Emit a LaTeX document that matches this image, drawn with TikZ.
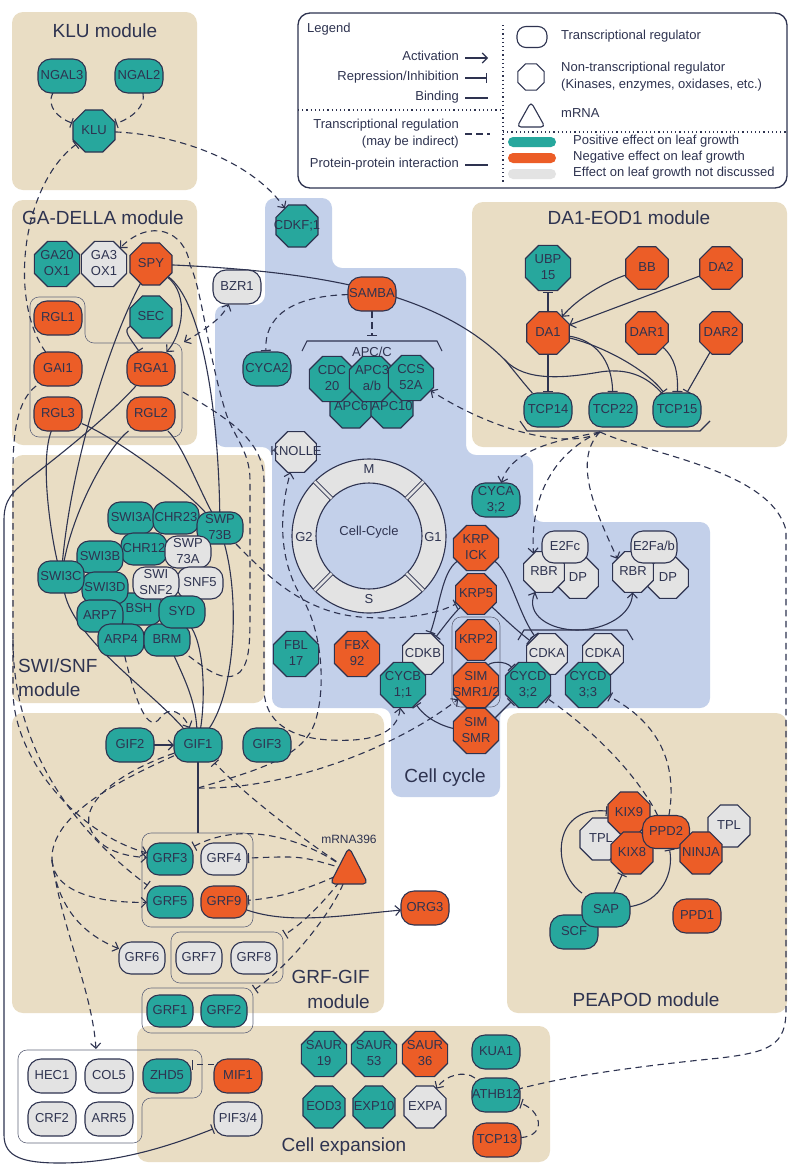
\documentclass[tikz,border=0pt]{standalone}
\usepackage{fontspec}
\setmainfont{Liberation Sans}
\usetikzlibrary{shapes.geometric,arrows.meta}
\definecolor{ink}{HTML}{2E3350}
\definecolor{tealc}{HTML}{27A79D}
\definecolor{orngc}{HTML}{EC5D27}
\definecolor{greyc}{HTML}{E3E3E3}
\definecolor{tanc}{HTML}{E9DDC4}
\definecolor{bluec}{HTML}{C3D0EA}
\newcommand{\myN}{\fontsize{13}{16}\selectfont}
\newcommand{\myT}{\fontsize{19}{23}\selectfont}
\newcommand{\myL}{\fontsize{13}{16}\selectfont}
\newcommand{\ctext}[1]{\makebox[0pt]{\begin{tabular}{@{}c@{}}#1\end{tabular}}}
\pgfdeclarelayer{bgl}
\pgfdeclarelayer{edg}
\pgfsetlayers{bgl,edg,main}
\begin{document}
\begin{tikzpicture}[x=1pt,y=-1pt,
  nb/.style={draw=ink, line width=1.1pt, text=ink, font=\myN, inner sep=0pt, outer sep=0pt},
  tr/.style={nb, rectangle, rounded corners=13pt, minimum width=48pt, minimum height=34pt},
  sw/.style={nb, rectangle, rounded corners=12pt, minimum width=46pt, minimum height=32pt},
  oct/.style={nb, regular polygon, regular polygon sides=8, minimum size=45.5pt},
  cc/.style={oct, minimum size=44pt},
  da/.style={oct, minimum size=46pt},
  cpos/.style={fill=tealc}, cneg/.style={fill=orngc}, cneu/.style={fill=greyc},
  ln/.style={draw=ink, line width=1.1pt},
  td/.style={ln, dash pattern=on 6.5pt off 4.5pt},
  act/.style={-{Straight Barb[length=5pt,width=10pt]}},
  bact/.style={{Straight Barb[length=5pt,width=10pt]}-{Straight Barb[length=5pt,width=10pt]}},
  rep/.style={-{Bar[width=10pt]}, shorten >=1pt},
  grp/.style={draw=ink!75, line width=0.6pt, rounded corners=9pt},
  dotl/.style={draw=ink, line width=1.2pt, dash pattern=on 1.2pt off 3pt},
  ttl/.style={text=ink, font=\myT, inner sep=0pt},
  lgt/.style={text=ink, font=\myL, inner sep=0pt}]
\useasboundingbox (0,0) rectangle (798,1170);

% ---------------- backgrounds ----------------
\begin{pgfonlayer}{bgl}
\fill[white] (0,0) rectangle (798,1170);
\fill[tanc, rounded corners=11pt] (12,12) rectangle (197,190);
\fill[tanc, rounded corners=11pt] (12,200) rectangle (197,445);
\fill[tanc, rounded corners=11pt] (12,455) rectangle (265,703);
\fill[tanc, rounded corners=11pt] (12,713) rectangle (384,1013);
\fill[tanc, rounded corners=11pt] (137,1026) rectangle (550,1162);
\fill[tanc, rounded corners=11pt] (472,202) rectangle (787,447);
\fill[tanc, rounded corners=11pt] (507,713) rectangle (787,1013);
\fill[bluec, rounded corners=10pt] (265,198) -- (332,198) -- (332,268) -- (466,268) -- (466,455)
  -- (533,455) -- (533,522) -- (710,522) -- (710,708) -- (500,708) -- (500,797) -- (391,797)
  -- (391,708) -- (272,708) -- (272,447) -- (215,447) -- (215,305) -- (265,305) -- cycle;
\draw[ink, line width=1.3pt, rounded corners=12pt, fill=white] (298,13) rectangle (787,188);
% cell-cycle ring
\filldraw[fill=greyc, draw=ink, line width=1.1pt] (369,536) circle[radius=77pt];
\filldraw[fill=bluec, draw=ink, line width=1.1pt] (369,536) circle[radius=53pt];
\foreach \a in {45,135,225,315}
  \draw[ink, line width=0.9pt, double=greyc, double distance=2.6pt, shift={(369,536)}] (\a:53pt) -- (\a:77pt);
% group boxes
\draw[grp] (30,297) -- (85,297) -- (85,343) -- (182,343) -- (182,437) -- (30,437) -- cycle;
\draw[grp] (142,833) rectangle (253,927);
\draw[grp] (171,932) rectangle (283,983);
\draw[grp] (142,988) rectangle (253,1033);
\draw[grp] (18,1050) -- (202,1050) -- (202,1098) -- (142,1098) -- (142,1143) -- (18,1143) -- cycle;
\draw[grp] (452,617) rectangle (500,707);
\end{pgfonlayer}

% ---------------- titles ----------------
\node[ttl] (t1) at (105,31) {KLU module};
\node[ttl,anchor=west] (t2) at (22,218) {GA-DELLA module};
\node[ttl,anchor=west] (t3) at (18,666) {SWI/SNF};
\node[ttl,anchor=west] (t4) at (18,690) {module};
\node[ttl,anchor=east] (t5) at (370,977) {GRF-GIF};
\node[ttl,anchor=east] (t6) at (370,1002) {module};
\node[ttl] (t7) at (629,218) {DA1-EOD1 module};
\node[ttl] (t8) at (646,1000) {PEAPOD module};
\node[ttl,anchor=mid] (t9) at (445,780) {Cell cycle};
\node[ttl,anchor=mid] (t10) at (344,1149) {Cell expansion};

% ---------------- legend ----------------
\node[lgt,anchor=mid west] (lg0) at (307,30) {Legend};
\node[lgt,anchor=mid east] (lg1) at (459,58) {Activation};
\node[lgt,anchor=mid east] (lg2) at (459,78) {Repression/Inhibition};
\node[lgt,anchor=mid east] (lg3) at (459,98) {Binding};
\node[lgt,anchor=mid east] (lg4) at (459,126) {Transcriptional regulation};
\node[lgt,anchor=mid east] (lg5) at (459,143) {(may be indirect)};
\node[lgt,anchor=mid east] (lg6) at (459,165) {Protein-protein interaction};
\draw[ln,act] (465,58) -- (488,58);
\draw[ln,rep] (465,78) -- (488,78);
\draw[ln] (465,98) -- (488,98);
\draw[td] (465,134) -- (490,134);
\draw[ln] (465,165) -- (488,165);
\draw[dotl] (298,110) -- (503,110);
\draw[dotl] (503,25) -- (503,184);
\draw[dotl] (503,132) -- (787,132);
\node[nb, fill=white, rectangle, rounded corners=9pt, minimum width=30pt, minimum height=21pt] (ls1) at (532,37) {};
\node[nb, fill=white, regular polygon, regular polygon sides=8, minimum size=28.5pt] (ls2) at (531,77) {};
\filldraw[fill=white, draw=ink, line width=1.1pt, rounded corners=4pt] (531,102) -- (545,127) -- (517,127) -- cycle;
\fill[tealc, rounded corners=5pt] (508,137) rectangle (556,147);
\fill[orngc, rounded corners=5pt] (508,153) rectangle (556,163);
\fill[greyc, rounded corners=5pt] (508,169) rectangle (556,179);
\node[lgt,anchor=mid west] (lr1) at (561,37) {Transcriptional regulator};
\node[lgt,anchor=mid west] (lr2) at (561,69) {Non-transcriptional regulator};
\node[lgt,anchor=mid west] (lr3) at (561,86) {(Kinases, enzymes, oxidases, etc.)};
\node[lgt,anchor=mid west] (lr4) at (561,115) {mRNA};
\node[lgt,anchor=mid west] (lr5) at (573,142) {Positive effect on leaf growth};
\node[lgt,anchor=mid west] (lr6) at (573,158) {Negative effect on leaf growth};
\node[lgt,anchor=mid west] (lr7) at (573,174) {Effect on leaf growth not discussed};

% ---------------- KLU ----------------
\node[tr,cpos] (NGAL3) at (62,76) {\ctext{NGAL3}};
\node[tr,cpos] (NGAL2) at (139,76) {\ctext{NGAL2}};
\node[oct,cpos] (KLU) at (94,131) {\ctext{KLU}};

% ---------------- GA-DELLA ----------------
\node[oct,cpos] (GA20) at (57,264) {\ctext{GA20\\OX1}};
\node[oct,cneu] (GA3) at (104,264) {\ctext{GA3\\OX1}};
\node[oct,cneg] (SPY) at (151,264) {\ctext{SPY}};
\node[tr,cneg] (RGL1) at (58,318) {\ctext{RGL1}};
\node[oct,cpos] (SEC) at (151,317) {\ctext{SEC}};
\node[tr,cneg] (GAI1) at (58,369) {\ctext{GAI1}};
\node[tr,cneg] (RGA1) at (151,369) {\ctext{RGA1}};
\node[tr,cneg] (RGL3) at (58,414) {\ctext{RGL3}};
\node[tr,cneg] (RGL2) at (151,414) {\ctext{RGL2}};
\node[tr,cneu] (BZR1) at (237,287) {\ctext{BZR1}};
\coordinate (Dbox) at (184,342);
\coordinate (Dline) at (183,392);

% ---------------- SWI/SNF ----------------
\node[sw,cpos] (SWI3A) at (131,518) {\ctext{SWI3A}};
\node[sw,cpos] (CHR23) at (176,518) {\ctext{CHR23}};
\node[sw,cpos] (SWP73B) at (220,528) {\ctext{SWP\\73B}};
\node[sw,cpos] (CHR12) at (144,549) {\ctext{CHR12}};
\node[sw,cneu] (SWP73A) at (188,552) {\ctext{SWP\\73A}};
\node[sw,cpos] (SWI3B) at (100,557) {\ctext{SWI3B}};
\node[sw,cpos] (BSH) at (139,609) {\ctext{BSH}};
\node[sw,cneu] (SNF5) at (200,583) {\ctext{SNF5}};
\node[sw,cneu] (SWISNF2) at (156,583) {\ctext{SWI\\SNF2}};
\node[sw,cpos] (SWI3D) at (105,588) {\ctext{SWI3D}};
\node[sw,cpos] (SWI3C) at (61,577) {\ctext{SWI3C}};
\node[sw,cpos] (ARP7) at (100,616) {\ctext{ARP7}};
\node[sw,cpos] (ARP4) at (121,640) {\ctext{ARP4}};
\node[sw,cpos] (BRM) at (167,640) {\ctext{BRM}};
\node[sw,cpos] (SYD) at (182,612) {\ctext{SYD}};

% ---------------- Cell cycle ----------------
\node[oct,cpos] (CDKF) at (297,226) {\ctext{CDKF;1}};
\node[tr,cneg] (SAMBA) at (372,294) {\ctext{SAMBA}};
\node[tr,cpos] (CYCA2) at (267,369) {\ctext{CYCA2}};
\node[oct,cpos] (APC6) at (351,407) {\ctext{APC6}};
\node[oct,cpos] (APC10) at (392,407) {\ctext{APC10}};
\node[oct,cpos] (CDC20) at (332,379) {\ctext{CDC\\20}};
\node[oct,cpos] (APC3) at (372,379) {\ctext{APC3\\a/b}};
\node[oct,cpos] (CCS52A) at (411,378) {\ctext{CCS\\52A}};
\draw[ln] (302,351) -- (307,341) -- (437,341) -- (442,351);
\node[lgt] (apclab) at (372,352) {APC/C};
\coordinate (apcb) at (372,337);
\node[cc,cneu] (KNOLLE) at (296,452) {\ctext{KNOLLE}};
\node[lgt,anchor=mid] (rM) at (369,471) {M};
\node[lgt,anchor=mid] (rG1) at (433,539) {G1};
\node[lgt,anchor=mid] (rS) at (369,601) {S};
\node[lgt,anchor=mid] (rG2) at (304,539) {G2};
\node[lgt,anchor=mid] (rCC) at (369,533) {Cell-Cycle};
\node[tr,cpos] (CYCA32) at (496,500) {\ctext{CYCA\\3;2}};
\node[cc,cneu] (DP1) at (578,578) {\ctext{DP}};
\node[cc,cneu] (RBR1) at (544,572) {\ctext{RBR}};
\node[sw,cneu] (E2Fc) at (565,547) {\ctext{E2Fc}};
\node[cc,cneu] (DP2) at (668,578) {\ctext{DP}};
\node[cc,cneu] (RBR2) at (633,572) {\ctext{RBR}};
\node[sw,cneu] (E2Fab) at (654,547) {\ctext{E2Fa/b}};
\node[cc,cneg] (KRPICK) at (476,548) {\ctext{KRP\\ICK}};
\node[cc,cneg] (KRP5) at (476,594) {\ctext{KRP5}};
\node[cc,cneg] (KRP2) at (476,640) {\ctext{KRP2}};
\node[cc,cneg] (SIM12) at (476,685) {\ctext{SIM\\SMR1/2}};
\node[cc,cneg] (SIMSMR) at (476,731) {\ctext{SIM\\SMR}};
\node[cc,cneu] (CDKB) at (423,654) {\ctext{CDKB}};
\node[cc,cpos] (CYCB) at (403,685) {\ctext{CYCB\\1;1}};
\node[cc,cneu] (CDKA1) at (547,654) {\ctext{CDKA}};
\node[cc,cpos] (CYCD32) at (528,685) {\ctext{CYCD\\3;2}};
\node[cc,cneu] (CDKA2) at (603,654) {\ctext{CDKA}};
\node[cc,cpos] (CYCD33) at (588,685) {\ctext{CYCD\\3;3}};
\node[cc,cpos] (FBL17) at (296,654) {\ctext{FBL\\17}};
\node[cc,cneg] (FBX92) at (357,654) {\ctext{FBX\\92}};
\draw[ln] (518,640) -- (524,630) -- (627,630) -- (633,640);

% ---------------- DA1-EOD1 ----------------
\node[da,cpos] (UBP15) at (548,268) {\ctext{UBP\\15}};
\node[da,cneg] (BB) at (647,268) {\ctext{BB}};
\node[da,cneg] (DA2) at (721,268) {\ctext{DA2}};
\node[da,cneg] (DA1) at (548,333) {\ctext{DA1}};
\node[da,cneg] (DAR1) at (647,333) {\ctext{DAR1}};
\node[da,cneg] (DAR2) at (721,333) {\ctext{DAR2}};
\node[tr,cpos] (TCP14) at (548,410) {\ctext{TCP14}};
\node[tr,cpos] (TCP22) at (613,410) {\ctext{TCP22}};
\node[tr,cpos] (TCP15) at (677,410) {\ctext{TCP15}};
\draw[ln] (520,421) -- (527,431) -- (700,431) -- (710,421);
\coordinate (tcpb) at (600,432);
\coordinate (spyj) at (505,360);

% ---------------- PEAPOD ----------------
\node[oct,cneu] (TPLL) at (601,839) {\ctext{TPL}};
\node[oct,cneg] (KIX9) at (629,813) {\ctext{KIX9}};
\node[oct,cneg] (KIX8) at (632,853) {\ctext{KIX8}};
\node[tr,cneg,minimum width=47pt,minimum height=33pt] (PPD2) at (666,832) {\ctext{PPD2}};
\node[oct,cneu] (TPLR) at (729,826) {\ctext{TPL}};
\node[oct,cneg] (NINJA) at (701,853) {\ctext{NINJA}};
\node[tr,cpos] (SCF) at (574,932) {\ctext{SCF}};
\node[tr,cpos] (SAP) at (606,910) {\ctext{SAP}};
\node[tr,cneg] (PPD1) at (697,916) {\ctext{PPD1}};

% ---------------- GRF-GIF ----------------
\node[tr,cpos] (GIF2) at (130,745) {\ctext{GIF2}};
\node[tr,cpos] (GIF1) at (198,745) {\ctext{GIF1}};
\node[tr,cpos] (GIF3) at (267,745) {\ctext{GIF3}};
\node[sw,cpos] (GRF3) at (170,859) {\ctext{GRF3}};
\node[sw,cneu] (GRF4) at (224,859) {\ctext{GRF4}};
\node[sw,cpos] (GRF5) at (170,902) {\ctext{GRF5}};
\node[sw,cneg] (GRF9) at (224,902) {\ctext{GRF9}};
\node[sw,cneu] (GRF6) at (142,958) {\ctext{GRF6}};
\node[sw,cneu] (GRF7) at (199,958) {\ctext{GRF7}};
\node[sw,cneu] (GRF8) at (254,958) {\ctext{GRF8}};
\node[sw,cpos] (GRF1) at (170,1011) {\ctext{GRF1}};
\node[sw,cpos] (GRF2) at (224,1011) {\ctext{GRF2}};
\node[tr,cneg] (ORG3) at (425,908) {\ctext{ORG3}};
\filldraw[fill=orngc, draw=ink, line width=1.1pt, rounded corners=5pt] (349,847) -- (368,884) -- (330,884) -- cycle;
\node[circle, minimum size=30pt, inner sep=0pt] (mRNA) at (349,870) {};
\node[text=ink, font=\fontsize{12}{14}\selectfont, inner sep=0pt, anchor=mid] (mlab) at (349,841) {mRNA396};
\coordinate (J) at (198,788);
\coordinate (grftop) at (198,833);
\coordinate (fanj) at (52,860);
\coordinate (hecin) at (96,1049);
\coordinate (b2c) at (284,935);
\coordinate (b3c) at (254,990);
\coordinate (lf) at (13,640);

% ---------------- Cell expansion ----------------
\node[tr,cneu] (HEC1) at (52,1076) {\ctext{HEC1}};
\node[tr,cneu] (COL5) at (109,1076) {\ctext{COL5}};
\node[tr,cpos] (ZHD5) at (167,1076) {\ctext{ZHD5}};
\node[tr,cneg] (MIF1) at (238,1076) {\ctext{MIF1}};
\node[tr,cneu] (CRF2) at (52,1119) {\ctext{CRF2}};
\node[tr,cneu] (ARR5) at (109,1119) {\ctext{ARR5}};
\node[tr,cneu] (PIF34) at (238,1119) {\ctext{PIF3/4}};
\node[oct,cpos] (SAUR19) at (324,1054) {\ctext{SAUR\\19}};
\node[oct,cpos] (SAUR53) at (374,1054) {\ctext{SAUR\\53}};
\node[oct,cneg] (SAUR36) at (425,1054) {\ctext{SAUR\\36}};
\node[oct,cpos] (EOD3) at (324,1107) {\ctext{EOD3}};
\node[oct,cpos] (EXP10) at (374,1107) {\ctext{EXP10}};
\node[oct,cneu] (EXPA) at (425,1107) {\ctext{EXPA}};
\node[tr,cpos] (KUA1) at (496,1052) {\ctext{KUA1}};
\node[tr,cpos] (ATHB12) at (496,1095) {\ctext{ATHB12}};
\node[tr,cneg] (TCP13) at (497,1140) {\ctext{TCP13}};

% ---------------- connectors ----------------
\begin{pgfonlayer}{edg}
% KLU
\draw[td,rep] (NGAL3) .. controls (46,106) and (58,118) .. (KLU);
\draw[td,rep] (NGAL2) .. controls (146,106) and (132,118) .. (KLU);
\draw[td,act] (KLU) .. controls (185,135) and (255,165) .. (CDKF);
\draw[td,rep] (GAI1) .. controls (8,300) and (22,185) .. (KLU);
\draw[td,act] (GAI1) .. controls (18,400) and (13,430) .. (13,470) -- (lf) -- (13,690) .. controls (13,760) and (80,835) .. (GRF3);
\draw[td,rep] (lf) .. controls (13,770) and (100,850) .. (GRF5);
% GA-DELLA
\draw[ln,act] (SPY) .. controls (190,295) and (182,335) .. (RGA1);
\draw[ln,rep] (SEC) .. controls (122,330) and (130,338) .. (RGA1);
\draw[td,bact] (Dbox) .. controls (205,330) and (222,318) .. (BZR1);
\draw[ln] (SPY) .. controls (330,272) and (440,295) .. (spyj);
\draw[ln] (spyj) .. controls (515,372) and (525,385) .. (TCP14);
\draw[ln] (spyj) .. controls (525,382) and (565,378) .. (600,372) .. controls (632,367) and (650,380) .. (TCP15);
\draw[ln] (SPY) .. controls (110,340) and (72,460) .. (SWI3C);
\draw[ln] (SPY) .. controls (200,300) and (218,400) .. (SWP73B);
\draw[ln,rep] (RGA1) .. controls (110,415) and (60,455) .. (30,478) .. controls (12,492) and (4,500) .. (4,520)
   -- (4,1135) .. controls (4,1158) and (25,1163) .. (60,1163) .. controls (115,1163) and (165,1148) .. (PIF34);
\draw[ln] (RGL3) .. controls (40,460) and (50,530) .. (SWI3C);
\draw[ln] (RGL2) .. controls (110,445) and (75,505) .. (SWI3C);
\draw[ln] (RGL3) .. controls (110,435) and (175,480) .. (SWP73B);
\draw[ln] (RGL2) .. controls (182,445) and (195,480) .. (SWP73B);
% SWI/SNF to GIF1
\draw[ln] (SWI3C) .. controls (75,640) and (150,690) .. (GIF1);
\draw[ln] (SWP73B) .. controls (240,600) and (235,690) .. (GIF1);
\draw[ln] (BRM) .. controls (185,680) and (195,700) .. (GIF1);
\draw[ln] (SYD) .. controls (205,650) and (205,700) .. (GIF1);
\draw[td,act] (BRM) .. controls (205,668) and (225,685) .. (240,672) .. controls (250,662) and (250,640) .. (250,610)
   -- (250,480) .. controls (250,450) and (232,435) .. (225,410) .. controls (207,350) and (202,290) .. (190,265)
   .. controls (185,230) and (150,218) .. (GA3);
\draw[td,act] (Dline) .. controls (230,420) and (263,440) .. (264,480) -- (264,690) .. controls (265,722) and (290,738) .. (330,740)
   .. controls (370,742) and (397,735) .. (CYCB);
\draw[td,rep] (SWP73B) .. controls (262,570) and (300,612) .. (360,617) .. controls (410,621) and (440,612) .. (KRP5);
% GRF-GIF
\draw[td,act] (J) .. controls (250,772) and (300,760) .. (314,725) .. controls (327,690) and (322,630) .. (302,598)
   .. controls (283,568) and (276,525) .. (KNOLLE);
\draw[td,act] (J) .. controls (290,790) and (400,745) .. (SIM12);
\draw[ln,act] (GIF2) -- (GIF1);
\draw[ln] (GIF1) -- (grftop);
\draw[td,act] (ARP4) .. controls (135,700) and (148,735) .. (160,718) .. controls (170,705) and (182,712) .. (GIF1);
\draw[td,act] (GIF1) .. controls (125,770) and (80,800) .. (90,828) .. controls (98,848) and (120,856) .. (GRF3);
\draw[td] (GIF1) .. controls (120,780) and (50,815) .. (fanj);
\draw[td,act] (fanj) .. controls (54,893) and (100,903) .. (GRF5);
\draw[td,act] (fanj) .. controls (58,910) and (85,935) .. (GRF6);
\draw[td,act] (fanj) .. controls (62,930) and (92,990) .. (hecin);
\draw[td,rep] (mRNA) .. controls (290,830) and (240,790) .. (GIF1);
\draw[td,rep] (mRNA) .. controls (295,836) and (240,822) .. (GRF3);
\draw[td,rep] (mRNA) .. controls (300,856) .. (GRF4);
\draw[td,rep] (mRNA) .. controls (310,888) and (280,898) .. (GRF9);
\draw[td,rep] (mRNA) .. controls (325,900) and (305,922) .. (b2c);
\draw[td,rep] (mRNA) .. controls (330,915) and (290,965) .. (b3c);
\draw[ln,act] (GRF9) .. controls (290,925) and (345,915) .. (ORG3);
% Cell cycle
\draw[td,rep] (SAMBA) -- (apcb);
\draw[td,rep] (SAMBA) .. controls (290,296) and (264,318) .. (CYCA2);
\draw[ln,rep] (KRPICK) .. controls (442,572) and (440,605) .. (CDKB);
\draw[ln,rep] (KRP5) .. controls (455,612) and (445,625) .. (CDKB);
\draw[ln,rep] (KRPICK) .. controls (510,572) and (518,612) .. (CDKA1);
\draw[ln,rep] (KRP5) .. controls (498,612) and (510,625) .. (CDKA1);
\draw[ln,rep] (SIM12) .. controls (490,662) and (505,660) .. (CYCD32);
\draw[ln,rep] (SIMSMR) .. controls (495,718) and (505,708) .. (CYCD32);
\draw[ln,rep] (SIMSMR) .. controls (450,728) and (428,722) .. (CYCB);
\draw[ln,bact] (RBR1) .. controls (525,615) and (550,630) .. (577,630) .. controls (605,630) and (632,615) .. (RBR2);
\draw[td,act] (tcpb) .. controls (570,450) and (495,432) .. (CCS52A);
\draw[td,act] (tcpb) .. controls (560,440) and (512,448) .. (CYCA32);
\draw[td,act] (tcpb) .. controls (555,452) and (530,495) .. (RBR1.120);
\draw[td,act] (tcpb) .. controls (570,462) and (600,520) .. (RBR2.140);
\draw[td] (tcpb) .. controls (650,455) and (770,470) .. (786,530) -- (786,1010) .. controls (786,1045) and (770,1052) .. (720,1058)
   .. controls (620,1068) and (560,1078) .. (ATHB12);
% DA1-EOD1
\draw[ln,rep] (DA1) -- (UBP15);
\draw[ln,act] (BB) .. controls (605,282) and (578,298) .. (DA1);
\draw[ln,act] (DA2) -- (DA1);
\draw[ln,rep] (DA1) -- (TCP14);
\draw[ln,rep] (DA1) .. controls (595,340) and (612,360) .. (TCP22);
\draw[ln,rep] (DA1) .. controls (600,345) and (645,368) .. (TCP15);
\draw[ln,rep] (DAR1) .. controls (675,358) and (678,372) .. (TCP15);
\draw[ln,rep] (DAR2) -- (TCP15);
% PEAPOD
\draw[td,rep] (PPD2) .. controls (640,780) and (600,735) .. (CYCD32);
\draw[td,rep] (PPD2) .. controls (676,775) and (668,728) .. (CYCD33);
\draw[ln,rep] (SAP) .. controls (552,872) and (550,806) .. (KIX9);
\draw[ln,rep] (SAP) -- (KIX8);
\draw[ln,rep] (SAP) .. controls (662,902) and (674,872) .. (PPD2);
% Cell expansion
\draw[td,rep] (MIF1.155) -- (ZHD5.25);
\draw[td,act] (ATHB12) .. controls (465,1070) and (445,1075) .. (EXPA);
\draw[td,rep] (TCP13) .. controls (548,1135) and (540,1110) .. (ATHB12);
\end{pgfonlayer}
\end{tikzpicture}
\end{document}
